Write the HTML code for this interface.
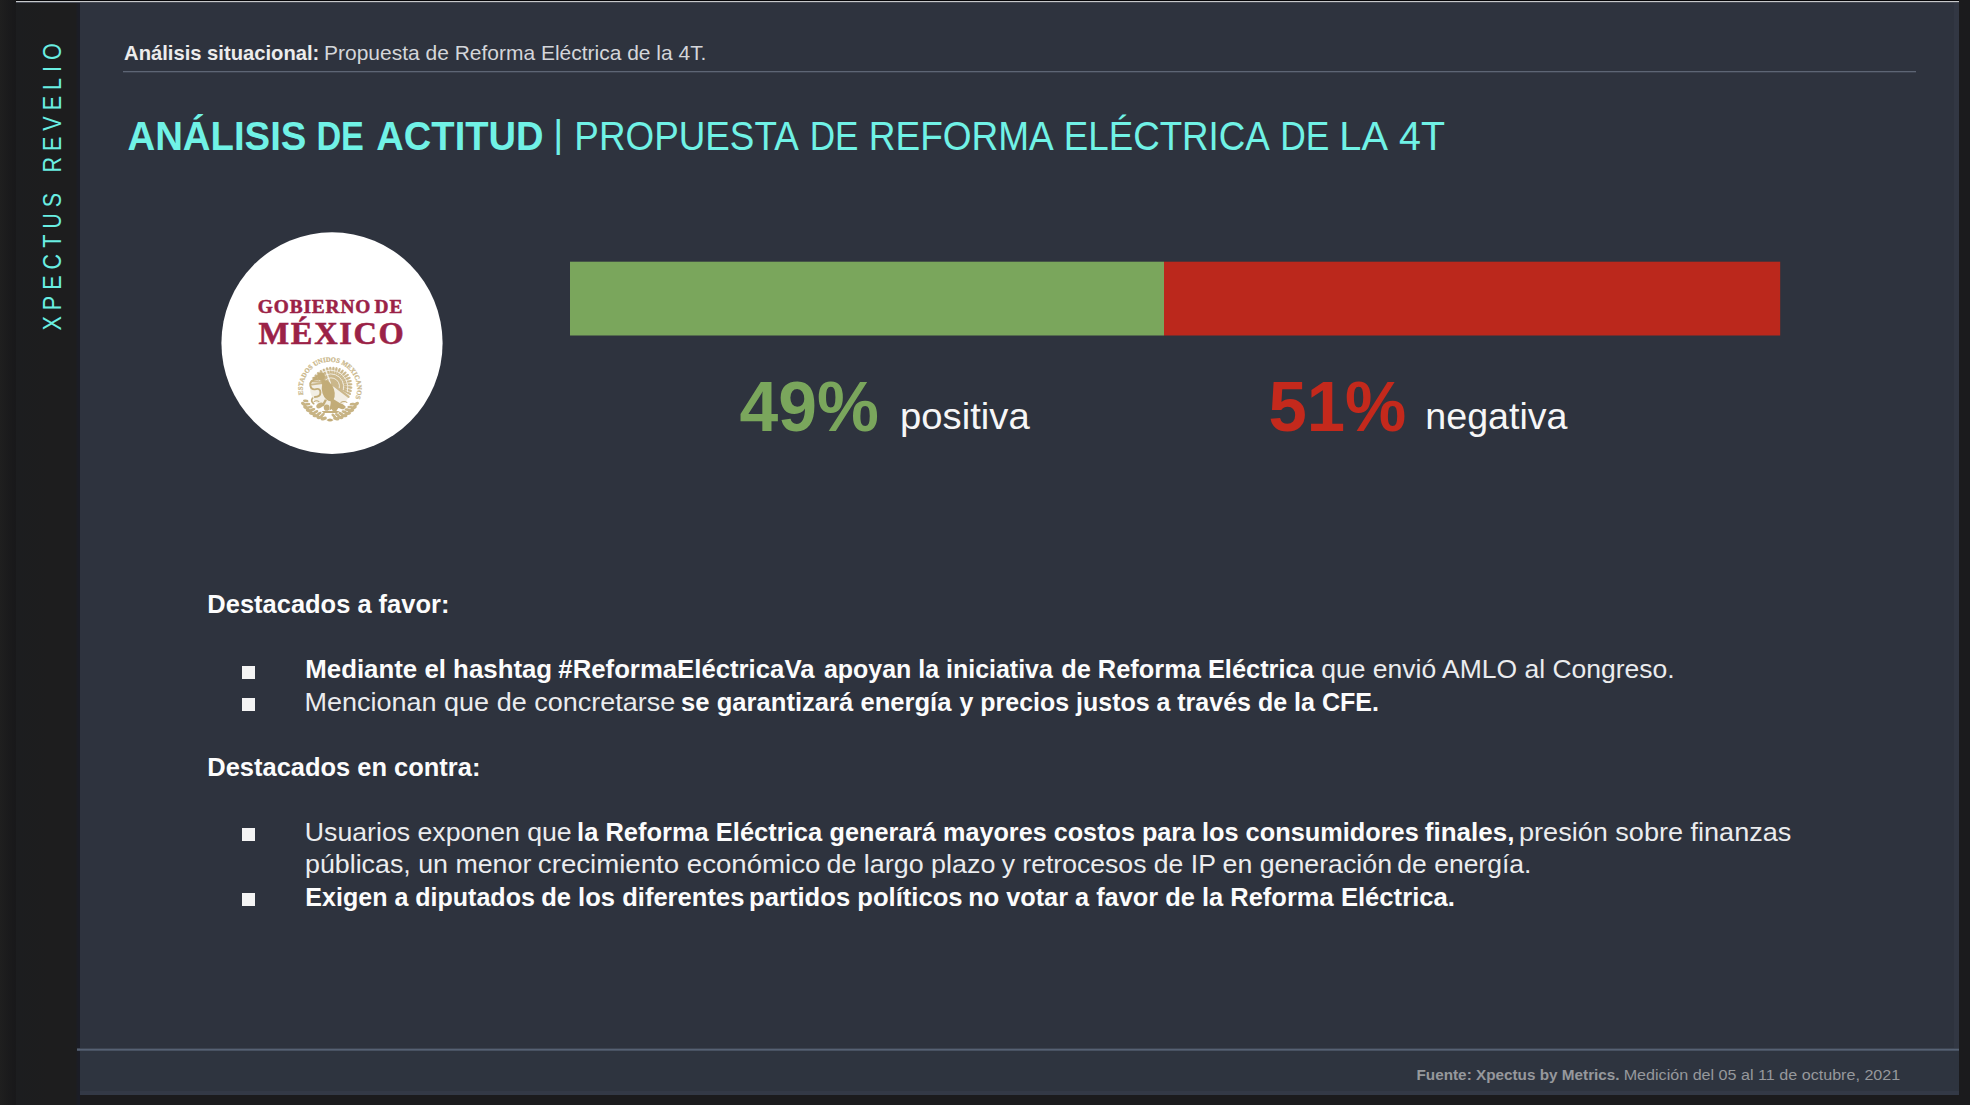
<!DOCTYPE html>
<html lang="es"><head><meta charset="utf-8"><title>Análisis de actitud | Propuesta de Reforma Eléctrica de la 4T</title>
<style>
html,body{margin:0;padding:0}
body{width:1970px;height:1105px;position:relative;overflow:hidden;background:#1b1b1d;font-family:"Liberation Sans",sans-serif}
.abs{position:absolute}
.t{position:absolute;left:0;top:0;white-space:nowrap;line-height:1;transform-origin:0 0;font-kerning:normal}
#edge{left:0;top:0;width:16px;height:1105px;background:linear-gradient(90deg,#1f1f1f 0,#1b1b1c 50%,#18181a 100%)}
#side{left:16px;top:0;width:64px;height:1105px;background:linear-gradient(90deg,#1c1d1f 0,#1d1d1e 50%,#1d1d1e 93%,#1b1d26 97%,#1b1d26 100%)}
#main{left:80px;top:0;width:1879.4px;height:1095px;background:#2e333e}
#topline{left:16px;top:0;width:1943px;height:3px;background:linear-gradient(#060608 0,#060608 33.3%,#c6c8ca 33.3%,#c6c8ca 66.6%,#474b55 66.6%,#474b55 100%)}
#hline{left:123px;top:71px;width:1793px;height:2px;background:linear-gradient(#5d6574 0,#5d6574 50%,#3c424f 50%,#3c424f 100%)}
#fline{left:77px;top:1048px;width:1882.4px;height:3px;background:linear-gradient(#3d4451 0,#3d4451 33.3%,#566173 33.3%,#566173 66.6%,#485262 66.6%,#485262 100%)}
#foot{left:80px;top:1050px;width:1879.4px;height:45px;background:#2e343f}
#footb{left:80px;top:1090.5px;width:1879.4px;height:4.5px;background:#333946}
#rstrip{left:1954px;top:2px;width:5px;height:1093px;background:#323743}
#bars{left:560px;top:250px;width:1240px;height:100px}
#circ{left:210px;top:220px;width:244px;height:246px}
.bu{position:absolute;left:242px;width:13px;height:13px;background:#f4f4f4}
#g1,#g2{-webkit-text-stroke:0.55px #9b2247}
#sb{position:absolute;left:0;top:0;transform-origin:0 0;white-space:nowrap;line-height:1;color:#6aeee2}
</style></head><body>
<div class="abs" id="edge"></div><div class="abs" id="side"></div><div class="abs" id="main"></div>
<div class="abs" id="rstrip"></div>
<div class="abs" id="topline"></div><div class="abs" id="hline"></div>
<div class="abs" id="foot"></div><div class="abs" id="footb"></div><div class="abs" id="fline"></div>
<svg class="abs" id="bars" viewBox="560 250 1240 100"><rect x="570" y="261.7" width="594" height="73.8" fill="#7aa65c"/><rect x="1164" y="261.7" width="616.2" height="73.8" fill="#bb281c"/></svg>
<svg class="abs" id="circ" viewBox="210 220 244 246"><ellipse cx="332" cy="343.1" rx="110.6" ry="110.8" fill="#fff"/></svg>
<svg class="abs" id="seal" style="left:293.8px;top:353.0px;width:72px;height:72px;opacity:.86" viewBox="-36 -36 72 72">
<defs><path id="ring" d="M-26.61,5.66 A27.2,27.2 0 1 1 25.22,10.19"/></defs>
<text font-family="'Liberation Serif',serif" font-weight="700" font-size="6.8" fill="#b99f63" stroke="#b99f63" stroke-width="0.25" opacity="0.88"><textPath href="#ring" textLength="100.6" lengthAdjust="spacingAndGlyphs">ESTADOS UNIDOS MEXICANOS</textPath></text>
<g fill="#b99f63" opacity="0.9"><ellipse cx="26.15" cy="15.10" rx="3.2" ry="1.7" transform="rotate(148 26.15 15.10)"/><ellipse cx="22.38" cy="15.10" rx="2.8" ry="1.4" transform="rotate(173 22.38 15.10)"/><ellipse cx="23.80" cy="18.59" rx="3.2" ry="1.7" transform="rotate(156 23.80 18.59)"/><ellipse cx="20.06" cy="18.07" rx="2.8" ry="1.4" transform="rotate(181 20.06 18.07)"/><ellipse cx="20.98" cy="21.72" rx="3.2" ry="1.7" transform="rotate(164 20.98 21.72)"/><ellipse cx="17.36" cy="20.68" rx="2.8" ry="1.4" transform="rotate(189 17.36 20.68)"/><ellipse cx="17.75" cy="24.43" rx="3.2" ry="1.7" transform="rotate(172 17.75 24.43)"/><ellipse cx="14.31" cy="22.90" rx="2.8" ry="1.4" transform="rotate(197 14.31 22.90)"/><ellipse cx="14.18" cy="26.67" rx="3.2" ry="1.7" transform="rotate(180 14.18 26.67)"/><ellipse cx="10.98" cy="24.67" rx="2.8" ry="1.4" transform="rotate(205 10.98 24.67)"/><ellipse cx="10.33" cy="28.38" rx="3.2" ry="1.7" transform="rotate(188 10.33 28.38)"/><ellipse cx="7.44" cy="25.95" rx="2.8" ry="1.4" transform="rotate(213 7.44 25.95)"/><ellipse cx="6.28" cy="29.54" rx="3.2" ry="1.7" transform="rotate(196 6.28 29.54)"/><ellipse cx="3.76" cy="26.74" rx="2.8" ry="1.4" transform="rotate(221 3.76 26.74)"/><ellipse cx="-6.28" cy="29.54" rx="3.2" ry="1.7" transform="rotate(164 -6.28 29.54)"/><ellipse cx="-7.44" cy="25.95" rx="2.8" ry="1.4" transform="rotate(139 -7.44 25.95)"/><ellipse cx="-10.33" cy="28.38" rx="3.2" ry="1.7" transform="rotate(172 -10.33 28.38)"/><ellipse cx="-10.98" cy="24.67" rx="2.8" ry="1.4" transform="rotate(147 -10.98 24.67)"/><ellipse cx="-14.18" cy="26.67" rx="3.2" ry="1.7" transform="rotate(180 -14.18 26.67)"/><ellipse cx="-14.31" cy="22.90" rx="2.8" ry="1.4" transform="rotate(155 -14.31 22.90)"/><ellipse cx="-17.75" cy="24.43" rx="3.2" ry="1.7" transform="rotate(188 -17.75 24.43)"/><ellipse cx="-17.36" cy="20.68" rx="2.8" ry="1.4" transform="rotate(163 -17.36 20.68)"/><ellipse cx="-20.98" cy="21.72" rx="3.2" ry="1.7" transform="rotate(196 -20.98 21.72)"/><ellipse cx="-20.06" cy="18.07" rx="2.8" ry="1.4" transform="rotate(171 -20.06 18.07)"/><ellipse cx="-23.80" cy="18.59" rx="3.2" ry="1.7" transform="rotate(204 -23.80 18.59)"/><ellipse cx="-22.38" cy="15.10" rx="2.8" ry="1.4" transform="rotate(179 -22.38 15.10)"/><ellipse cx="-26.15" cy="15.10" rx="3.2" ry="1.7" transform="rotate(212 -26.15 15.10)"/><ellipse cx="-24.27" cy="11.84" rx="2.8" ry="1.4" transform="rotate(187 -24.27 11.84)"/></g>
<path d="M-3.5,31 q3.5,-3 7,0 q-3.5,3 -7,0z" fill="#b99f63"/>
<circle cx="0.5" cy="-1" r="20.5" fill="#b99f63" opacity="0.2"/>
<g transform="translate(0.5,-1) scale(1.12)">
<g stroke="#b99f63" fill="none" stroke-linecap="round" opacity="0.82"><path d="M2,-3 L-3.1,-17.6" stroke-width="1.9"/><path d="M2,-3 L-0.3,-18.1" stroke-width="1.9"/><path d="M2,-3 L2.6,-18.1" stroke-width="1.9"/><path d="M2,-3 L5.4,-17.7" stroke-width="1.9"/><path d="M2,-3 L8.2,-16.9" stroke-width="1.9"/><path d="M2,-3 L10.9,-15.6" stroke-width="1.9"/><path d="M2,-3 L13.4,-13.8" stroke-width="1.9"/><path d="M2,-3 L15.5,-11.7" stroke-width="1.9"/><path d="M2,-3 L17.1,-9.1" stroke-width="1.9"/><path d="M2,-3 L18.1,-6.2" stroke-width="1.9"/><path d="M2,-3 L18.6,-3.3" stroke-width="1.9"/><path d="M2,-3 L18.6,-0.3" stroke-width="1.9"/><path d="M2,-3 L18.2,2.6" stroke-width="1.9"/><path d="M2,-3 L17.4,5.3" stroke-width="1.9"/><path d="M2,-3 L16.2,7.9" stroke-width="1.9"/><path d="M-2,-5 L-17.2,-3.0" stroke-width="1.7"/><path d="M-2,-5 L-16.4,-6.0" stroke-width="1.7"/><path d="M-2,-5 L-15.2,-8.7" stroke-width="1.7"/><path d="M-2,-5 L-13.4,-11.2" stroke-width="1.7"/><path d="M-2,-5 L-11.2,-13.4" stroke-width="1.7"/><path d="M-2,-5 L-8.7,-15.2" stroke-width="1.7"/><path d="M-2,-5 L-6.0,-16.4" stroke-width="1.7"/></g>
<g stroke="#fff" stroke-width="0.8" fill="none" opacity="0.8" transform="translate(1,-3)"><path d="M-7.2,-1.9 A7.5,7.5 0 0 1 6.8,3.2"/><path d="M-11.1,-3.0 A11.5,11.5 0 0 1 10.4,4.9"/><path d="M-15.0,-4.0 A15.5,15.5 0 0 1 14.0,6.6"/></g>
<g fill="#b99f63"><ellipse cx="-2" cy="3" rx="5.4" ry="9.2" transform="rotate(-18 -2 3)"/><circle cx="-8.5" cy="-10.5" r="3.5"/><path d="M-11.5,-11.4 l-5.4,2.4 l5,1.4z"/><path d="M-8,-8 q-1,5 3,8 l3,-6z"/><path d="M1,9 l13,8 l-3,1.8 l-4,-1 l-2,2.6 l-3,-2 l-3,1.6z"/><path d="M-5,10 l-3.4,6 h2.4 l2.8,-5z"/><path d="M0,11 l1,6 h2.2 l-0.6,-6z"/></g>
<path d="M-12,-8 q-7,1 -6,6 q1,4 5,3 q4,-1 4,3 q0,4 -5,4" stroke="#b99f63" stroke-width="1.7" fill="none" stroke-linecap="round"/>
<path d="M-16,9 q-2,3 1,5" stroke="#b99f63" stroke-width="1.5" fill="none" stroke-linecap="round"/>
<g fill="#b99f63" opacity="0.95"><ellipse cx="-9.5" cy="15.6" rx="3.4" ry="2.2" transform="rotate(-30 -9.5 15.6)"/><ellipse cx="-3.4" cy="17.6" rx="2.6" ry="2.8"/><ellipse cx="3.6" cy="18" rx="2.6" ry="2.7"/><ellipse cx="10" cy="16.4" rx="3.2" ry="2.1" transform="rotate(30 10 16.4)"/><path d="M-8,20.6 h16 l-2,1.8 h-12z"/></g>
<g stroke="#b99f63" stroke-width="0.9" fill="none"><path d="M-15,12.4 q2.5,-2 5,0"/><path d="M9,13 q3,-2 6,0"/></g>
</g>
</svg>
<div id="sb" style="font-size:25px;font-weight:400;letter-spacing:7px;word-spacing:2.6px;transform:translate(39.5px,330.5px) rotate(-90deg) scaleX(0.86)">XPECTUS REVELIO</div>

<div class="bu" style="top:665.7px"></div>
<div class="bu" style="top:698.2px"></div>
<div class="bu" style="top:828.2px"></div>
<div class="bu" style="top:893.2px"></div>
<span class="t" id="h1" style="font-size:20.4px;font-weight:700;color:#ececec;transform:translate(124.07px,43.13px) scaleX(0.9902)">Análisis situacional:</span>
<span class="t" id="h2" style="font-size:20.4px;font-weight:400;color:#d4d6da;transform:translate(324.07px,43.13px) scaleX(1.0286)">Propuesta de Reforma Eléctrica de la 4T.</span>
<span class="t" id="t0" style="font-size:40.3px;font-weight:700;color:#70f2e6;transform:translate(127.48px,116.59px) scaleX(0.9515)">ANÁLISIS</span>
<span class="t" id="t1" style="font-size:40.3px;font-weight:700;color:#70f2e6;transform:translate(316.39px,116.59px) scaleX(0.8494)">DE</span>
<span class="t" id="t2" style="font-size:40.3px;font-weight:700;color:#70f2e6;transform:translate(376.30px,116.59px) scaleX(0.9458)">ACTITUD</span>
<span class="t" id="t3" style="font-size:40.3px;font-weight:400;color:#70f2e6;transform:translate(574.37px,116.59px) scaleX(0.9135)">PROPUESTA</span>
<span class="t" id="t4" style="font-size:40.3px;font-weight:400;color:#70f2e6;transform:translate(809.76px,116.59px) scaleX(0.8712)">DE</span>
<span class="t" id="t5" style="font-size:40.3px;font-weight:400;color:#70f2e6;transform:translate(868.83px,116.59px) scaleX(0.9180)">REFORMA</span>
<span class="t" id="t6" style="font-size:40.3px;font-weight:400;color:#70f2e6;transform:translate(1063.72px,116.59px) scaleX(0.9114)">ELÉCTRICA</span>
<span class="t" id="t7" style="font-size:40.3px;font-weight:400;color:#70f2e6;transform:translate(1280.27px,116.59px) scaleX(0.8783)">DE</span>
<span class="t" id="t8" style="font-size:40.3px;font-weight:400;color:#70f2e6;transform:translate(1339.31px,116.59px) scaleX(0.9855)">LA</span>
<span class="t" id="t9" style="font-size:40.3px;font-weight:400;color:#70f2e6;transform:translate(1399.08px,116.59px) scaleX(0.9775)">4T</span>
<span class="t" id="tbar" style="font-size:38.3px;font-weight:400;color:#70f2e6;transform:translate(553.30px,115.18px) scaleX(1.0000)">|</span>
<span class="t" id="p1" style="font-size:70.8px;font-weight:700;color:#7aa65c;transform:translate(739.51px,371.57px) scaleX(0.9830)">49%</span>
<span class="t" id="p2" style="font-size:37.2px;font-weight:400;color:#f6f6f7;transform:translate(900.08px,398.31px) scaleX(1.0280)">positiva</span>
<span class="t" id="p3" style="font-size:70.8px;font-weight:700;color:#c4291c;transform:translate(1268.48px,371.57px) scaleX(0.9725)">51%</span>
<span class="t" id="p4" style="font-size:37.2px;font-weight:400;color:#f6f6f7;transform:translate(1425.28px,398.31px) scaleX(1.0119)">negativa</span>
<span class="t" id="d1" style="font-size:25.4px;font-weight:700;color:#fcfcfc;transform:translate(207.36px,592.00px) scaleX(1.0029)">Destacados a favor:</span>
<span class="t" id="d2" style="font-size:25.4px;font-weight:700;color:#fcfcfc;transform:translate(207.29px,754.50px) scaleX(1.0027)">Destacados en contra:</span>
<span class="t" id="g1" style="font-size:19.6px;font-weight:700;color:#9b2247;font-family:'Liberation Serif', serif;letter-spacing:0.9px;word-spacing:-2.3px;transform:translate(257.84px,297.21px) scaleX(0.9851)">GOBIERNO DE</span>
<span class="t" id="g2" style="font-size:30.8px;font-weight:700;color:#9b2247;font-family:'Liberation Serif', serif;letter-spacing:1.6px;transform:translate(258.56px,318.93px) scaleX(1.0525)">MÉXICO</span>
<span class="t" id="f1" style="font-size:15.3px;font-weight:700;color:#96989c;transform:translate(1416.49px,1066.95px) scaleX(0.9999)">Fuente: Xpectus by Metrics.</span>
<span class="t" id="f2" style="font-size:15.3px;font-weight:400;color:#96989c;transform:translate(1623.65px,1066.95px) scaleX(1.0537)">Medición del 05 al 11 de octubre, 2021</span>
<span class="t" id="b2_0" style="font-size:25.4px;font-weight:700;color:#fcfcfc;transform:translate(305.28px,657.00px) scaleX(1.0173)">Mediante el hashtag</span>
<span class="t" id="b2_1" style="font-size:25.4px;font-weight:700;color:#fcfcfc;transform:translate(558.36px,657.00px) scaleX(1.0137)">#ReformaEléctricaVa</span>
<span class="t" id="b2_2" style="font-size:25.4px;font-weight:700;color:#fcfcfc;transform:translate(823.89px,657.00px) scaleX(0.9834)">apoyan la iniciativa</span>
<span class="t" id="b2_3" style="font-size:25.4px;font-weight:700;color:#fcfcfc;transform:translate(1061.18px,657.00px) scaleX(1.0000)">de Reforma Eléctrica</span>
<span class="t" id="b2_4" style="font-size:25.4px;font-weight:400;color:#ebecee;transform:translate(1321.25px,657.00px) scaleX(1.0432)">que envió AMLO al Congreso.</span>
<span class="t" id="b3_0" style="font-size:25.4px;font-weight:400;color:#ebecee;transform:translate(304.55px,689.50px) scaleX(1.0631)">Mencionan que de concretarse</span>
<span class="t" id="b3_1" style="font-size:25.4px;font-weight:700;color:#fcfcfc;transform:translate(681.12px,689.50px) scaleX(1.0082)">se garantizará energía</span>
<span class="t" id="b3_2" style="font-size:25.4px;font-weight:700;color:#fcfcfc;transform:translate(959.52px,689.50px) scaleX(0.9833)">y precios justos</span>
<span class="t" id="b3_3" style="font-size:25.4px;font-weight:700;color:#fcfcfc;transform:translate(1156.39px,689.50px) scaleX(0.9854)">a través de la CFE.</span>
<span class="t" id="b7_0" style="font-size:25.4px;font-weight:400;color:#ebecee;transform:translate(304.84px,819.50px) scaleX(1.0503)">Usuarios exponen que</span>
<span class="t" id="b7_1" style="font-size:25.4px;font-weight:700;color:#fcfcfc;transform:translate(577.09px,819.50px) scaleX(1.0034)">la Reforma Eléctrica</span>
<span class="t" id="b7_2" style="font-size:25.4px;font-weight:700;color:#fcfcfc;transform:translate(829.60px,819.50px) scaleX(0.9933)">generará</span>
<span class="t" id="b7_3" style="font-size:25.4px;font-weight:700;color:#fcfcfc;transform:translate(943.03px,819.50px) scaleX(0.9926)">mayores costos para</span>
<span class="t" id="b7_4" style="font-size:25.4px;font-weight:700;color:#fcfcfc;transform:translate(1201.95px,819.50px) scaleX(0.9977)">los consumidores</span>
<span class="t" id="b7_5" style="font-size:25.4px;font-weight:700;color:#fcfcfc;transform:translate(1424.79px,819.50px) scaleX(1.0236)">finales,</span>
<span class="t" id="b7_6" style="font-size:25.4px;font-weight:400;color:#ebecee;transform:translate(1519.01px,819.50px) scaleX(1.0660)">presión sobre finanzas</span>
<span class="t" id="b8_0" style="font-size:25.4px;font-weight:400;color:#ebecee;transform:translate(304.99px,852.00px) scaleX(1.0551)">públicas, un menor</span>
<span class="t" id="b8_1" style="font-size:25.4px;font-weight:400;color:#ebecee;transform:translate(537.87px,852.00px) scaleX(1.0881)">crecimiento económico</span>
<span class="t" id="b8_2" style="font-size:25.4px;font-weight:400;color:#ebecee;transform:translate(826.51px,852.00px) scaleX(1.0586)">de largo plazo</span>
<span class="t" id="b8_3" style="font-size:25.4px;font-weight:400;color:#ebecee;transform:translate(1001.65px,852.00px) scaleX(1.0469)">y retrocesos de IP</span>
<span class="t" id="b8_4" style="font-size:25.4px;font-weight:400;color:#ebecee;transform:translate(1222.61px,852.00px) scaleX(1.0525)">en generación</span>
<span class="t" id="b8_5" style="font-size:25.4px;font-weight:400;color:#ebecee;transform:translate(1397.35px,852.00px) scaleX(1.0433)">de energía.</span>
<span class="t" id="b9_0" style="font-size:25.4px;font-weight:700;color:#fcfcfc;transform:translate(305.34px,884.50px) scaleX(0.9860)">Exigen a diputados</span>
<span class="t" id="b9_1" style="font-size:25.4px;font-weight:700;color:#fcfcfc;transform:translate(541.16px,884.50px) scaleX(1.0071)">de los diferentes</span>
<span class="t" id="b9_2" style="font-size:25.4px;font-weight:700;color:#fcfcfc;transform:translate(749.10px,884.50px) scaleX(1.0088)">partidos políticos</span>
<span class="t" id="b9_3" style="font-size:25.4px;font-weight:700;color:#fcfcfc;transform:translate(968.20px,884.50px) scaleX(0.9966)">no votar a favor</span>
<span class="t" id="b9_4" style="font-size:25.4px;font-weight:700;color:#fcfcfc;transform:translate(1165.21px,884.50px) scaleX(1.0028)">de la Reforma</span>
<span class="t" id="b9_5" style="font-size:25.4px;font-weight:700;color:#fcfcfc;transform:translate(1340.88px,884.50px) scaleX(1.0098)">Eléctrica.</span>
</body></html>
